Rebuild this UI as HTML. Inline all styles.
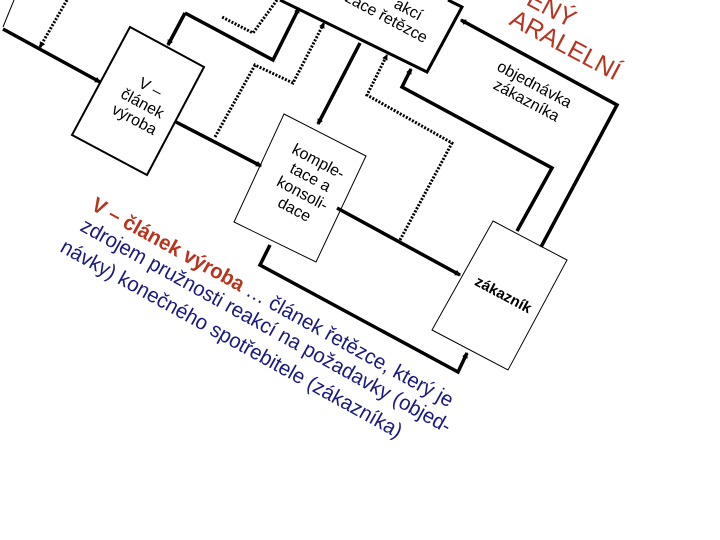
<!DOCTYPE html>
<html><head><meta charset="utf-8"><style>html,body{margin:0;padding:0;background:#fff}svg{display:block}</style></head>
<body>
<svg width="720" height="540" viewBox="0 0 720 540" xmlns="http://www.w3.org/2000/svg">
<defs>
<marker id="a" markerWidth="6" markerHeight="6" refX="5" refY="3" orient="auto" markerUnits="userSpaceOnUse"><path d="M0,0 L6,3 L0,6 z" fill="#000"/></marker>
</defs>
<g fill="none" stroke="#000">
<path d="M14,0 L3,27" stroke-width="1"/>
<path d="M280,0 L427,72 L462,7 L448,0" stroke-width="3"/>
<polygon points="130,27 204,67 147,175 72,135" stroke-width="2"/>
<polygon points="284,114 366,156 316,262 234,222" stroke-width="1"/>
<polygon points="493,221 567,260 508,370 432,330" stroke-width="1"/>
<g stroke-width="3.5">
<path d="M3,29 L100,82" marker-end="url(#a)"/>
<path d="M185,13 L168,45" marker-end="url(#a)"/>
<path d="M185,13 L273,60 L299,8" marker-end="url(#a)"/>
<path d="M360,43 L318,124" marker-end="url(#a)"/>
<path d="M176,122 L261,166" marker-end="url(#a)"/>
<path d="M517,231 L552,168 L402,87 L411,69" marker-end="url(#a)"/>
<path d="M541,247 L617,105 L461,20" marker-end="url(#a)"/>
<path d="M337,208 L460,275" marker-end="url(#a)"/>
<path d="M270,245 L260,265 L458,372 L467,353" marker-end="url(#a)"/>
</g>
<g stroke-width="3" stroke-dasharray="2,1.5">
<path d="M67,0 L40,47" marker-end="url(#a)"/>
<path d="M277,0 L253,33 L222,17"/>
<path d="M215,137 L255,65 L293,83 L324,23" marker-end="url(#a)"/>
<path d="M400,240 L452,143 L367,95 L387,55" marker-end="url(#a)"/>
</g>
</g>
<g font-family="Liberation Sans, DejaVu Sans, sans-serif" fill="#000">
<g font-size="16" text-anchor="middle">
<text transform="translate(148,92) rotate(28)">V –</text>
<text transform="translate(140,108) rotate(28)">článek</text>
<text transform="translate(132,124) rotate(28)">výroba</text>
<text transform="translate(316,166) rotate(28)">komple-</text>
<text transform="translate(308,182) rotate(28)">tace a</text>
<text transform="translate(300,198) rotate(28)">konsoli-</text>
<text transform="translate(292,214) rotate(28)">dace</text>
<text transform="translate(532,89) rotate(28)">objednávka</text>
<text transform="translate(524,105) rotate(28)">zákazníka</text>
<text transform="translate(501,299) rotate(28)" font-weight="bold" font-size="15">zákazník</text>
<text transform="translate(406,14) rotate(28)">akcí</text>
<text transform="translate(384,22) rotate(28)">zace řetězce</text>
</g>
<g fill="#b8341f" font-size="25">
<text transform="translate(525,4) rotate(28)">ENÝ</text>
<text transform="translate(508,24) rotate(28)">ARALELNÍ</text>
</g>
<g font-size="21">
<text transform="translate(90,209) rotate(29)" textLength="410" lengthAdjust="spacingAndGlyphs"><tspan fill="#b8341f" font-weight="bold">V – článek výroba</tspan><tspan fill="#1a1a80"> … článek řetězce, který je</tspan></text>
<text transform="translate(79,230) rotate(29)" fill="#1a1a80" textLength="420" lengthAdjust="spacingAndGlyphs">zdrojem pružnosti reakcí na požadavky (objed-</text>
<text transform="translate(59,251) rotate(29)" fill="#1a1a80" textLength="387" lengthAdjust="spacingAndGlyphs">návky) konečného spotřebitele (zákazníka)</text>
</g>
</g>
</svg>
</body></html>
